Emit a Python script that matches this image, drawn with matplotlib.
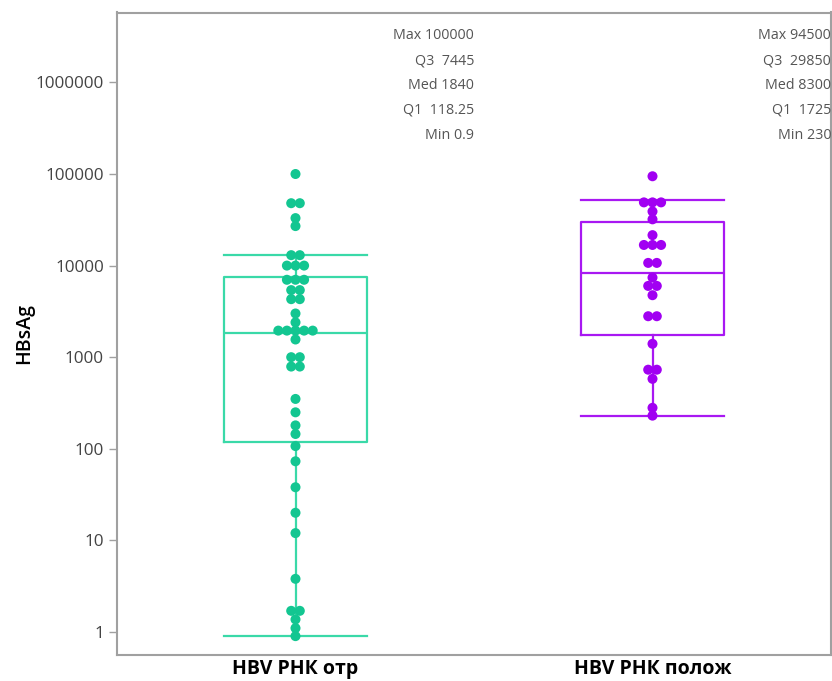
import numpy as np
import matplotlib
matplotlib.use("Agg")
import matplotlib.pyplot as plt

plt.rcParams['font.family'] = ['Open Sans', 'DejaVu Sans']

groups = ["HBV РНК отр", "HBV РНК полож"]

# HBsAg values
hbsag_neg = [100000, 48000, 48000, 33000, 27000, 13000, 13000,
             10000, 10000, 10000, 7000, 7000, 7000, 5400, 5400,
             4300, 4300, 3000, 2400, 1950, 1950, 1950, 1950, 1950,
             1560, 1000, 1000, 790, 790, 350, 250, 180, 145, 107,
             73, 38, 20, 12, 3.8, 1.7, 1.7, 1.37, 1.1, 0.9]
hbsag_pos = [94500, 49000, 49000, 49000, 39000, 32000, 21500,
             16800, 16800, 16800, 10700, 10700, 7400, 6000, 6000,
             4750, 2800, 2800, 1400, 730, 730, 580, 280, 230]

# box statistics as printed on the chart
st_max = [100000, 94500]
st_q3 = [7445, 29850]
st_med = [1840, 8300]
st_q1 = [118.25, 1725]
st_min = [0.9, 230]
whisk_hi = [13000, 52000]
st_labels = [["Max 100000", "Q3  7445", "Med 1840", "Q1  118.25", "Min 0.9"],
             ["Max 94500", "Q3  29850", "Med 8300", "Q1  1725", "Min 230"]]

point_colors = ["#13c691", "#a100f2"]
box_colors = ["#3ad9a8", "#a818f2"]

fig = plt.figure(figsize=(8.32, 6.81), dpi=100)
ax = fig.add_axes([117/832, 1 - 655/681, (831 - 117)/832, (655 - 12.5)/681])
ax.set_yscale("log")
ax.set_xlim(-0.5, 1.5)
ax.set_ylim(0.56, 5.8e6)

for i in range(2):
    stats = [dict(med=st_med[i], q1=st_q1[i], q3=st_q3[i],
                  whislo=st_min[i], whishi=whisk_hi[i], fliers=[])]
    ax.bxp(stats, positions=[i], widths=0.4, showfliers=False,
           boxprops=dict(color=box_colors[i], linewidth=1.6),
           whiskerprops=dict(color=box_colors[i], linewidth=1.6),
           capprops=dict(color=box_colors[i], linewidth=1.6),
           medianprops=dict(color=box_colors[i], linewidth=1.6),
           capwidths=0.4, zorder=2)

# simple centred swarm: equal values side by side
px_per_unit = ax.get_position().width * 832 / 2.0
step = 8.6 / px_per_unit
for i, vals in enumerate([hbsag_neg, hbsag_pos]):
    vals = np.array(vals)
    xs, ys = [], []
    for v in np.unique(vals):
        n = np.sum(vals == v)
        for k in range(n):
            xs.append(i + (k - (n - 1) / 2) * step)
            ys.append(v)
    ax.scatter(xs, ys, s=52, color=point_colors[i], edgecolor="none", zorder=3)

for i in range(2):
    for k, txt in enumerate(st_labels[i]):
        ax.text(i + 0.5, 0.964 - k * 0.0388, txt, transform=ax.get_xaxis_transform(),
                ha="right", va="center", fontsize=10.3, color="#555555")

ax.set_yticks([1, 10, 100, 1000, 10000, 100000, 1000000])
ax.set_yticklabels(["1", "10", "100", "1000", "10000", "100000", "1000000"])
ax.yaxis.set_minor_locator(matplotlib.ticker.NullLocator())
ax.tick_params(axis="y", length=6, width=1, color="#a0a0a0", labelsize=12.3, labelcolor="#444444")
ax.set_xticks([0, 1])
ax.set_xticklabels(groups, fontsize=14, fontweight="bold")
ax.tick_params(axis="x", length=0, pad=3)
for s in ax.spines.values():
    s.set_color("#a0a0a0")
    s.set_linewidth(1.5)
ax.set_ylabel("HBsAg", fontsize=14, fontweight="semibold", labelpad=1)

fig.savefig("out.png", dpi=100)
